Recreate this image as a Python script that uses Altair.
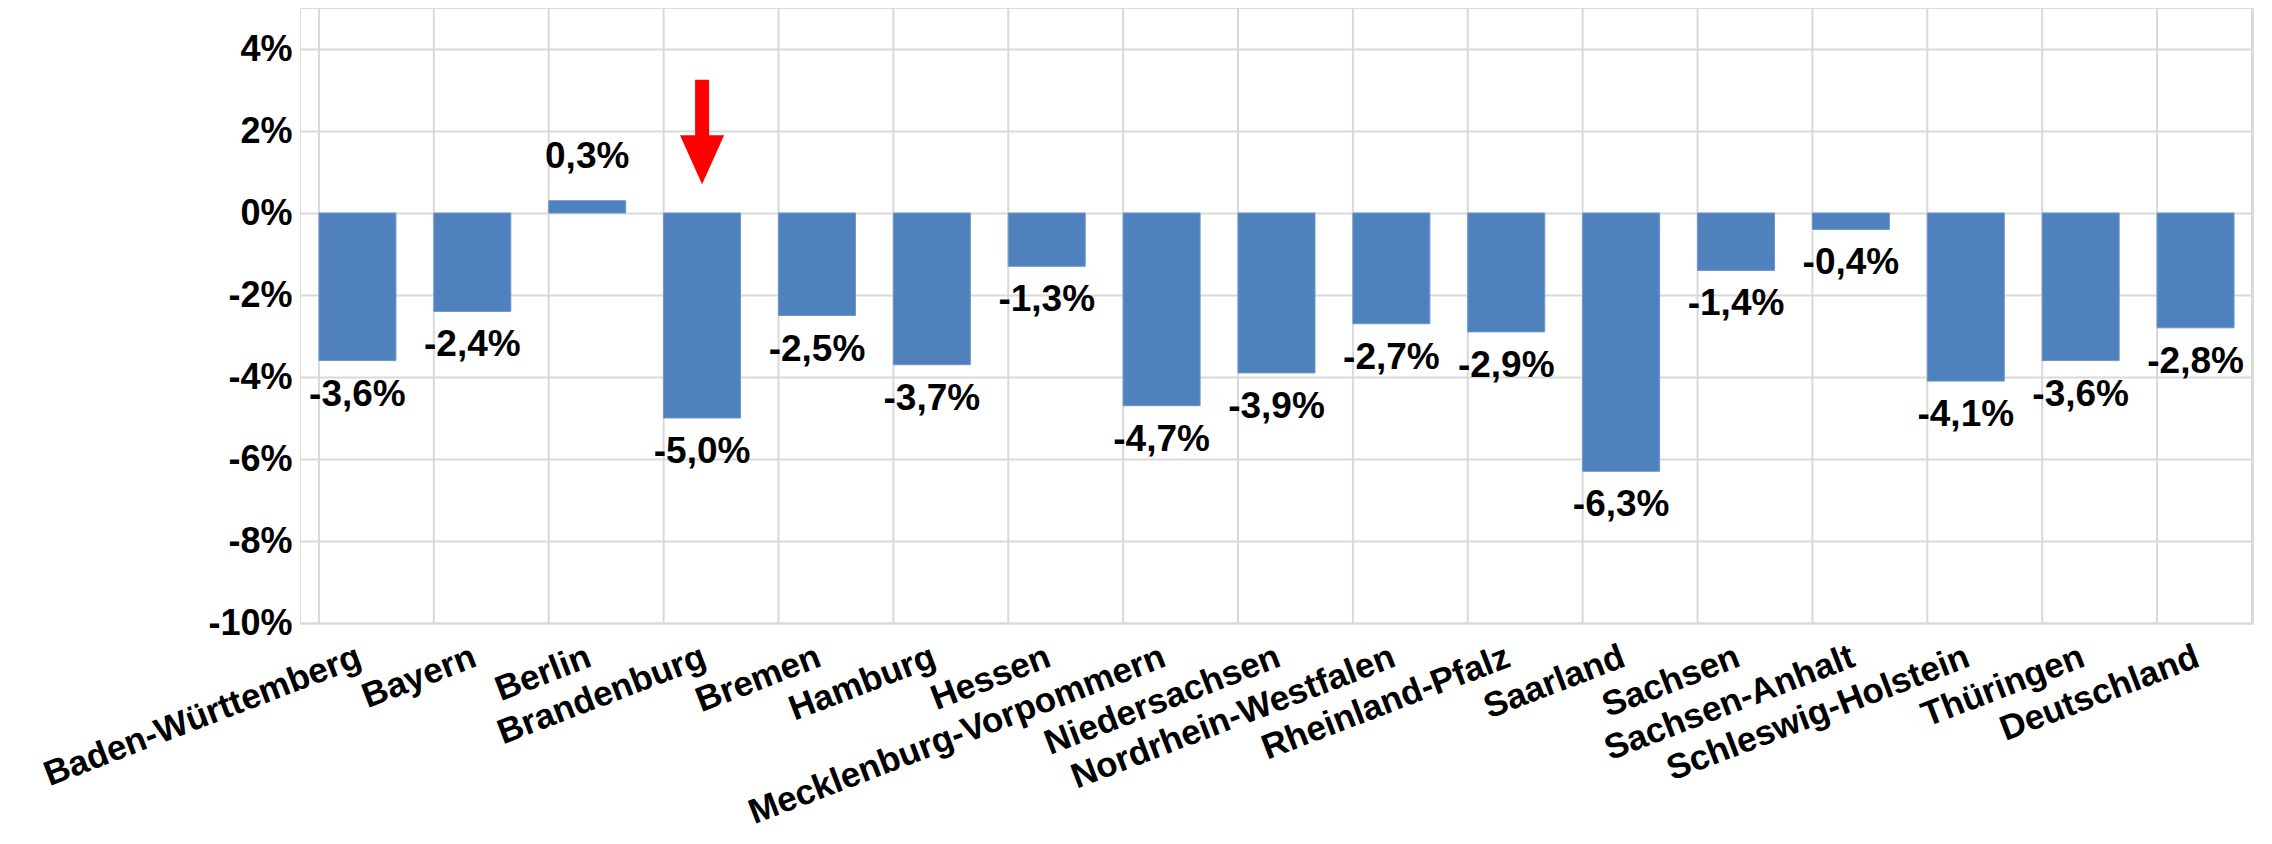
import altair as alt
import pandas as pd

states = ["Baden-Württemberg", "Bayern", "Berlin", "Brandenburg", "Bremen", "Hamburg",
          "Hessen", "Mecklenburg-Vorpommern", "Niedersachsen", "Nordrhein-Westfalen",
          "Rheinland-Pfalz", "Saarland", "Sachsen", "Sachsen-Anhalt", "Schleswig-Holstein",
          "Thüringen", "Deutschland"]
changes = [-3.6, -2.4, 0.3, -5.0, -2.5, -3.7, -1.3, -4.7, -3.9, -2.7, -2.9, -6.3,
           -1.4, -0.4, -4.1, -3.6, -2.8]
y_ticks = [-10, -8, -6, -4, -2, 0, 2, 4]

highlight = "Brandenburg"
arrow_shaft = [3.25, 1.85]
arrow_head = 1.3

W, H = 1953, 615
FONT = "Liberation Sans"
GRID = "#d9d9d9"
BAR = "#4f81bd"

df = pd.DataFrame({"state": states, "value": changes})
df["label"] = [f"{v:.1f}".replace(".", ",") + "%" for v in changes]
df_arrow = pd.DataFrame({"state": [highlight], "y1": [arrow_shaft[0]],
                         "y2": [arrow_shaft[1]], "yh": [arrow_head]})

xscale = alt.Scale(domain=states, paddingInner=0.33, paddingOuter=0.165)
yscale = alt.Scale(domain=[-10, 5], nice=False)

x_enc = alt.X("state:N", sort=states, title=None, scale=xscale,
              axis=alt.Axis(labelAngle=339, labelAlign="right", labelBaseline="top",
                            labelPadding=16, labelFont=FONT, labelFontWeight="bold",
                            labelFontSize=35, labelColor="black", ticks=False,
                            domainColor=GRID, domainWidth=2, labelLimit=1000,
                            labelOverlap=False, grid=False, labelOffset=-4))
y_enc = alt.Y("value:Q", title=None, scale=yscale,
              axis=alt.Axis(values=y_ticks, labelExpr="datum.value + '%'", grid=True,
                            gridColor=GRID, gridWidth=2, domain=False, ticks=False,
                            labelFont=FONT, labelFontWeight="bold", labelFontSize=36,
                            labelColor="black", labelPadding=8))

base = alt.Chart(df)

vgrid = base.mark_rule(color=GRID, strokeWidth=2).encode(
    x=alt.X("state:N", sort=states, bandPosition=0),
    y=alt.value(0), y2=alt.value(H))
right_edge = base.mark_rule(color=GRID, strokeWidth=2).encode(
    x=alt.value(W - 1), y=alt.value(0), y2=alt.value(H))

bars = base.mark_bar(color=BAR, stroke="#6d95c8", strokeWidth=1).encode(
    x=x_enc, y=y_enc, y2=alt.datum(0))

neg_labels = base.transform_filter("datum.value < 0").mark_text(
    font=FONT, fontWeight="bold", fontSize=37, color="black",
    baseline="top", dy=16).encode(x=alt.X("state:N", sort=states), y="value:Q", text="label:N")
pos_labels = base.transform_filter("datum.value >= 0").mark_text(
    font=FONT, fontWeight="bold", fontSize=37, color="black",
    baseline="alphabetic", dy=-33).encode(x=alt.X("state:N", sort=states), y="value:Q", text="label:N")

arrow_base = alt.Chart(df_arrow)
shaft = arrow_base.mark_rule(color="#ff0000", strokeWidth=14, strokeCap="butt").encode(
    x=alt.X("state:N", sort=states), y="y1:Q", y2="y2:Q")
head = arrow_base.mark_point(shape="M-0.9,-1L0.9,-1L0,1Z", size=2400, filled=True,
                             color="#ff0000", opacity=1, strokeWidth=0).encode(
    x=alt.X("state:N", sort=states), y="yh:Q")

chart = alt.layer(vgrid, right_edge, bars, neg_labels, pos_labels, shaft, head).properties(
    width=W, height=H,
    padding={"left": 292, "top": 0, "right": 11, "bottom": 213},
    autosize=alt.AutoSizeParams(type="none"),
).configure_view(stroke=None).configure(font=FONT)

chart.save("out.html", embed_options={"renderer": "svg", "actions": False})
